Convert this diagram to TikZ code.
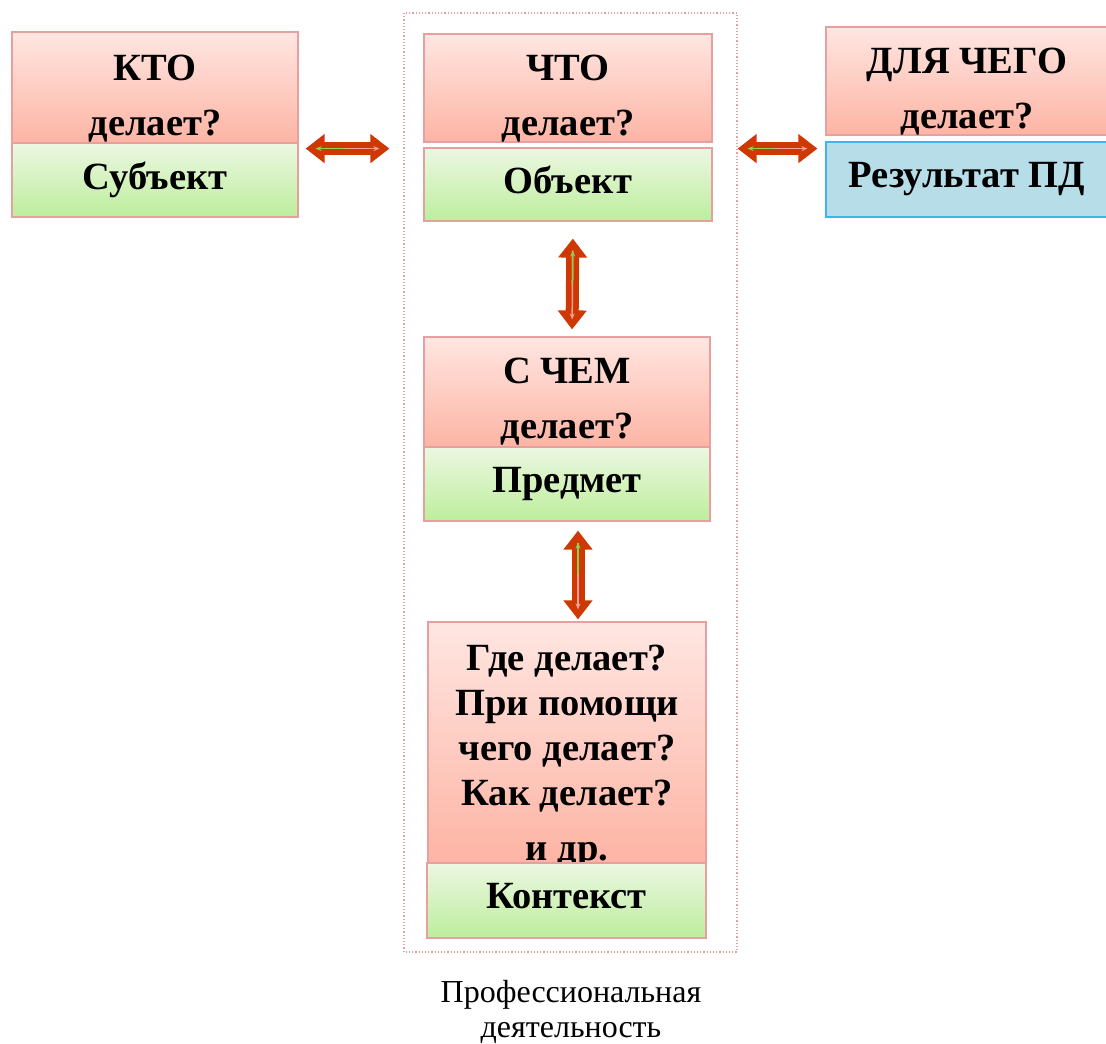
\documentclass[tikz,border=0pt]{standalone}
\usepackage{fontspec}
\setmainfont{Liberation Serif}
\usetikzlibrary{arrows.meta}

\definecolor{pinktop}{RGB}{255,230,226}
\definecolor{pinkbot}{RGB}{253,180,164}
\definecolor{greentop}{RGB}{236,247,226}
\definecolor{greenbot}{RGB}{189,238,156}
\definecolor{boxedge}{RGB}{230,160,160}
\definecolor{bluefill}{RGB}{183,221,232}
\definecolor{blueedge}{RGB}{60,182,232}
\definecolor{arrowred}{RGB}{206,56,2}
\definecolor{lightgreen}{RGB}{140,210,80}
\definecolor{lightpink}{RGB}{244,160,150}

% struts that push the text of a box down or up
\newcommand{\topstrut}[1]{\rule{0pt}{#1}}
\newcommand{\botstrut}{\rule[-10pt]{0pt}{10pt}}

\tikzset{
  question/.style={draw=boxedge, line width=1.2pt, top color=pinktop, bottom color=pinkbot,
    inner xsep=0pt, inner ysep=-8pt, align=center, font=\bfseries\fontsize{38.5}{55}\selectfont},
  answer/.style={draw=boxedge, line width=1.2pt, top color=greentop, bottom color=greenbot,
    inner sep=0pt, align=center, font=\bfseries\fontsize{38.5}{44}\selectfont},
  result/.style={answer, draw=blueedge, fill=bluefill, top color=bluefill, bottom color=bluefill},
  bigarrow/.style={draw=arrowred, line width=13pt,
    {Triangle[length=19pt,width=28pt]}-{Triangle[length=19pt,width=28pt]}},
  thinfwd/.style={lightpink, line width=1.5pt, -{Stealth[length=6pt,width=5pt]}},
  thinback/.style={lightgreen, line width=1.5pt, {Stealth[length=6pt,width=5pt]}-},
}

\begin{document}
\begin{tikzpicture}[x=1pt,y=-1pt]
  \useasboundingbox (0,0) rectangle (1106,1044);

  % frame round the activity
  \draw[boxedge, line width=1.2pt, dotted] (404,13) rectangle (737,952);
  \node[font=\fontsize{32}{35}\selectfont, align=center] (caption) at (571,1012)
    {Профессиональная\\деятельность};

  % who
  \node[question, minimum width=286pt, minimum height=111pt] (ktoHead) at (155,87.5) {\topstrut{48pt}КТО\\делает?};
  \node[answer, minimum width=286pt, minimum height=74pt] (ktoBody) at (155,180) {Субъект};

  % what
  \node[question, minimum width=288pt, minimum height=108pt] (chtoHead) at (568,88) {\topstrut{46pt}ЧТО\\делает?};
  \node[answer, minimum width=288pt, minimum height=73pt] (chtoBody) at (568,184.5) {Объект\botstrut};

  % what for
  \node[question, minimum width=282pt, minimum height=108pt] (dlyaHead) at (967,81) {\topstrut{46pt}ДЛЯ ЧЕГО\\делает?};
  \node[result, minimum width=282pt, minimum height=75pt] (dlyaBody) at (967,179.5) {Результат ПД};

  % with what
  \node[question, minimum width=286pt, minimum height=110pt] (schemHead) at (567,392) {\topstrut{44pt}С ЧЕМ\\делает?};
  \node[answer, minimum width=286pt, minimum height=74pt] (schemBody) at (567,484) {Предмет};

  % context
  \node[question, minimum width=278pt, minimum height=241pt, font=\bfseries\fontsize{38.5}{45}\selectfont]
    (kontHead) at (567,742.5) {\topstrut{54pt}Где делает?\\При помощи\\чего делает?\\Как делает?\\[10pt]и др.};
  \node[answer, minimum width=279pt, minimum height=75pt] (kontBody) at (566.5,900.5) {Контекст\botstrut};

  % connectors
  \draw[bigarrow, shorten <=7pt, shorten >=34pt]
    ([yshift=-5pt]ktoHead.south east) -- ([yshift=-5pt]ktoHead.south east -| chtoHead.west);
  \draw[thinfwd, shorten <=17pt, shorten >=44pt]
    ([yshift=-5pt]ktoHead.south east) -- ([yshift=-5pt]ktoHead.south east -| chtoHead.west);
  \draw[thinback, shorten <=17pt, shorten >=79pt]
    ([yshift=-5pt]ktoHead.south east) -- ([yshift=-5pt]ktoHead.south east -| chtoHead.west);

  \draw[bigarrow, shorten <=25pt, shorten >=8pt]
    ([yshift=-6pt]chtoHead.south east) -- ([yshift=-6pt]chtoHead.south east -| dlyaHead.west);
  \draw[thinfwd, shorten <=35pt, shorten >=18pt]
    ([yshift=-6pt]chtoHead.south east) -- ([yshift=-6pt]chtoHead.south east -| dlyaHead.west);
  \draw[thinback, shorten <=35pt, shorten >=51pt]
    ([yshift=-6pt]chtoHead.south east) -- ([yshift=-6pt]chtoHead.south east -| dlyaHead.west);

  \draw[bigarrow, shorten <=17pt, shorten >=7pt]
    ([xshift=5pt]chtoBody.south) -- ([xshift=5pt]schemHead.north);
  \draw[thinfwd, shorten <=29pt, shorten >=17pt]
    ([xshift=5pt]chtoBody.south) -- ([xshift=5pt]schemHead.north);
  \draw[thinback, shorten <=29pt, shorten >=52pt]
    ([xshift=5pt]chtoBody.south) -- ([xshift=5pt]schemHead.north);

  \draw[bigarrow, shorten <=9pt, shorten >=2pt]
    ([xshift=11pt]schemBody.south) -- ([xshift=11pt]kontHead.north);
  \draw[thinfwd, shorten <=21pt, shorten >=12pt]
    ([xshift=11pt]schemBody.south) -- ([xshift=11pt]kontHead.north);
  \draw[thinback, shorten <=21pt, shorten >=47pt]
    ([xshift=11pt]schemBody.south) -- ([xshift=11pt]kontHead.north);
\end{tikzpicture}
\end{document}
